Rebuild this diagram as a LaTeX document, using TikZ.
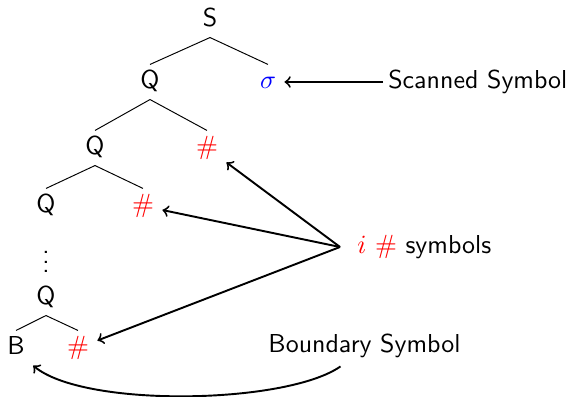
\documentclass[tikz,border=0pt]{standalone}
\begin{document}
\begin{tikzpicture}[x=0.01464cm,y=-0.01464cm,font=\fontsize{10.8pt}{13pt}\selectfont\sffamily,
    sym/.style={text height=1.5ex,text depth=.25ex},
    pointer/.style={->,thick}]
  \useasboundingbox (0,0) rectangle (572,397);
  % the tree
  \node[sym] (s) at (210,20) {S};
  \node[sym] (q1) at (150,82) {Q};
  \node[sym] (sig) at (268,82) {\color{blue}$\sigma$};
  \node[sym] (q2) at (95,148) {Q};
  \node[sym] (h2) at (207,148) {\color{red}$\#$};
  \node[sym] (q3) at (46,206) {Q};
  \node[sym] (h3) at (143,206) {\color{red}$\#$};
  \node (dots) at (46,255) {$\vdots$};
  \node[sym] (q4) at (46,298) {Q};
  \node[sym] (b) at (16,348) {B};
  \node[sym] (h4) at (78,348) {\color{red}$\#$};
  \foreach \p/\c in {s/q1,s/sig,q1/q2,q1/h2,q2/q3,q2/h3,q4/b,q4/h4}
    \draw (\p.south) -- (\c.north);
  % labels
  \node[anchor=west,inner xsep=2pt] (scan) at (383,82) {Scanned Symbol};
  \node[anchor=west,inner xsep=7pt] (isym) at (340,247) {\color{red}$i$ $\#$ \color{black}symbols};
  \node[anchor=west] (bound) at (260,346) {Boundary Symbol};
  \draw[pointer] (scan.west) -- (sig);
  \foreach \t in {h2,h3,h4}
    \draw[pointer] (isym.west) -- (\t);
  \draw[pointer] ([xshift=-10pt]bound.south) to[out=-145,in=-40,looseness=0.55] (b.south east);
\end{tikzpicture}
\end{document}
